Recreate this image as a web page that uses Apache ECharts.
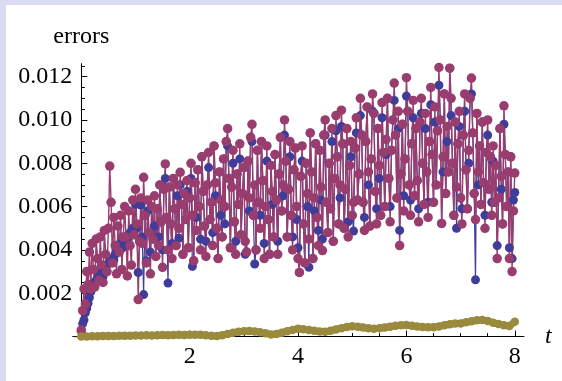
<!DOCTYPE html>
<html lang="en">
<head>
    <meta charset="UTF-8">
    <title>errors vs t</title>
    <style>
        html, body {
            margin: 0;
            padding: 0;
        }

        body {
            background: #dadaf3;
            width: 562px;
            height: 381px;
            overflow: hidden;
            position: relative;
        }

        #chart {
            position: absolute;
            left: 6px;
            top: 5px;
            width: 556px;
            height: 376px;
            background: #fff;
        }
    </style>
    <script src="https://cdn.jsdelivr.net/npm/echarts@6.0.0/dist/echarts.min.js"></script>
</head>
<body>
    <div id="chart"></div>

    <script>
        // both oscillating curves sampled every 0.025 in t (8 samples per row), units of 1e-3
        const tStep = 0.025;

        const magentaErr = [
            0.3, 1.2, 2.2, 1.5, 3.0, 2.4, 3.9, 2.2,
            4.3, 3.1, 2.3, 4.5, 3.6, 2.6, 4.6, 3.3,
            2.5, 4.9, 3.8, 3.0, 5.0, 7.87, 6.2, 3.4,
            5.5, 4.2, 2.9, 5.1, 3.9, 5.6, 3.1, 4.6,
            6.0, 4.6, 2.8, 5.8, 4.2, 3.3, 6.3, 4.7,
            6.8, 5.2, 1.71, 4.4, 6.4, 4.3, 7.35, 5.6,
            3.4, 6.3, 4.8, 2.9, 6.0, 4.5, 6.5, 3.7,
            5.9, 4.2, 7.0, 5.3, 3.2, 6.8, 7.97, 5.5,
            4.0, 6.9, 5.2, 3.6, 7.3, 5.9, 4.2, 7.0,
            5.0, 7.58, 6.1, 3.8, 6.6, 5.4, 7.2, 4.1,
            6.4, 8.0, 5.6, 3.5, 7.1, 4.9, 7.7, 6.0,
            4.0, 8.3, 6.7, 5.1, 3.7, 7.0, 8.5, 5.4,
            6.2, 4.2, 8.8, 7.1, 5.0, 3.6, 7.6, 6.3,
            4.6, 8.2, 6.0, 9.0, 9.6, 7.3, 4.1, 6.9,
            8.6, 5.3, 3.8, 7.5, 6.1, 8.9, 4.7, 6.6,
            7.8, 4.4, 3.9, 8.1, 6.4, 9.2, 9.8, 5.6,
            7.0, 4.0, 8.6, 6.2, 5.0, 9.0, 7.2, 3.6,
            6.0, 8.8, 5.4, 3.8, 7.9, 6.7, 4.6, 8.4,
            6.3, 3.8, 7.5, 9.2, 5.8, 7.0, 10.0, 8.1,
            4.6, 6.8, 9.0, 5.6, 4.0, 7.7, 8.7, 6.0,
            3.6, 2.96, 7.4, 8.8, 5.2, 3.4, 8.0, 6.6,
            4.5, 9.4, 7.6, 3.6, 6.4, 8.9, 5.5, 4.2,
            8.6, 6.9, 3.97, 9.3, 10.0, 6.2, 4.8, 8.0,
            5.9, 9.6, 4.4, 7.3, 10.2, 8.3, 5.2, 7.0,
            10.45, 8.9, 5.0, 6.8, 9.6, 4.6, 7.9, 9.0,
            5.6, 6.2, 8.7, 10.1, 6.3, 7.5, 11.0, 9.3,
            6.2, 4.9, 9.0, 10.6, 7.6, 5.1, 8.2, 11.2,
            10.3, 6.7, 5.2, 9.6, 7.9, 5.6, 10.8, 8.5,
            6.0, 9.1, 11.0, 7.3, 5.3, 8.6, 10.0, 11.7,
            9.3, 6.4, 10.4, 4.2, 7.5, 9.8, 5.8, 8.2,
            11.95, 10.4, 7.0, 5.6, 8.9, 10.9, 6.5, 9.6,
            7.2, 5.3, 9.9, 11.0, 8.0, 6.1, 10.3, 7.6,
            5.5, 9.0, 11.5, 8.4, 6.2, 10.6, 7.0, 9.5,
            12.42, 10.0, 5.22, 8.3, 11.2, 6.6, 9.7, 7.6,
            12.39, 11.0, 8.0, 5.6, 9.9, 6.9, 8.9, 10.4,
            6.4, 5.2, 9.3, 11.2, 7.7, 5.9, 8.6, 11.0,
            11.93, 9.4, 6.6, 5.4, 10.3, 7.6, 8.8, 6.1,
            9.9, 7.1, 5.0, 8.5, 10.0, 6.8, 8.3, 5.6,
            8.8, 6.2, 7.9, 3.6, 6.4, 9.6, 7.4, 5.2,
            10.65, 8.4, 6.0, 7.6, 3.6, 8.3, 3.0, 5.8,
            7.55
        ];

        const blueErr = [
            0.25, 0.6, 0.77, 1.1, 1.3, 1.54, 1.8, 2.07,
            2.2, 2.4, 2.5, 2.6, 2.7, 2.76, 2.9, 3.0,
            2.76, 3.07, 3.2, 3.3, 3.4, 3.45, 3.53, 3.6,
            3.53, 3.8, 4.07, 3.9, 4.2, 4.3, 4.07, 4.4,
            4.5, 4.6, 4.4, 4.69, 4.8, 4.69, 5.0, 4.9,
            6.1, 5.0, 2.96, 4.4, 6.07, 4.6, 1.94, 5.6,
            3.5, 5.8, 4.8, 3.9, 6.0, 4.5, 5.1, 3.7,
            5.9, 4.6, 7.0, 5.3, 4.0, 6.8, 7.3, 5.5,
            2.47, 6.9, 5.2, 4.3, 7.3, 5.9, 4.2, 6.5,
            4.54, 7.0, 6.1, 3.8, 6.6, 5.4, 6.7, 4.1,
            6.4, 7.3, 3.24, 3.5, 7.1, 5.5, 7.7, 6.0,
            4.5, 8.3, 6.7, 5.1, 4.4, 7.0, 7.8, 5.4,
            6.2, 4.8, 8.8, 6.5, 5.0, 3.6, 7.6, 5.6,
            4.6, 8.2, 5.2, 9.0, 8.8, 7.3, 4.1, 6.9,
            8.0, 5.3, 4.4, 7.5, 6.1, 8.2, 4.7, 6.6,
            7.8, 3.8, 3.9, 8.1, 5.8, 9.2, 9.0, 5.6,
            3.35, 4.0, 8.6, 6.2, 5.6, 9.0, 7.2, 4.3,
            6.0, 8.1, 5.4, 3.8, 7.9, 6.1, 4.6, 8.4,
            6.3, 4.4, 7.5, 9.2, 5.8, 6.5, 9.3, 8.1,
            4.6, 6.8, 8.3, 5.6, 4.6, 7.7, 8.7, 5.4,
            4.1, 2.96, 7.4, 8.1, 5.2, 3.4, 8.0, 6.0,
            3.2, 9.4, 7.6, 3.6, 5.8, 8.9, 5.5, 4.9,
            8.6, 6.3, 4.5, 9.3, 9.3, 6.2, 4.8, 8.0,
            5.9, 9.0, 4.4, 7.3, 9.5, 8.3, 5.2, 6.4,
            9.7, 8.9, 5.0, 6.8, 9.6, 5.3, 7.9, 8.3,
            5.6, 4.87, 8.7, 9.4, 6.3, 7.5, 10.2, 9.3,
            6.2, 5.5, 9.0, 10.6, 7.0, 5.1, 8.2, 10.4,
            10.3, 6.7, 5.9, 9.6, 7.3, 5.6, 10.1, 8.5,
            6.0, 8.4, 11.0, 7.3, 6.0, 8.6, 10.0, 10.9,
            9.3, 6.4, 9.6, 4.9, 7.5, 9.8, 6.5, 8.2,
            11.1, 10.4, 7.0, 6.3, 8.9, 10.1, 6.5, 9.6,
            7.2, 5.9, 9.9, 10.3, 8.0, 6.1, 9.6, 7.6,
            6.2, 9.0, 10.7, 8.4, 6.2, 9.9, 7.0, 9.5,
            11.6, 10.0, 5.22, 7.6, 11.2, 6.6, 9.0, 7.6,
            12.39, 10.2, 8.0, 5.6, 9.9, 5.0, 8.9, 9.7,
            6.4, 5.9, 9.3, 10.4, 7.7, 5.9, 8.0, 11.0,
            11.2, 9.4, 6.6, 2.62, 10.3, 7.0, 8.8, 6.1,
            9.9, 7.1, 5.6, 8.5, 9.3, 6.8, 8.3, 6.2,
            8.1, 6.2, 7.9, 4.2, 6.4, 9.6, 6.8, 5.2,
            9.8, 8.4, 6.0, 7.6, 4.1, 8.3, 3.6, 6.3,
            6.65
        ];

        // slow curve near the axis, every 0.1 in t, units of 1e-3
        const oliveStep = 0.1;
        const oliveErr = [
            0.0, 0.01, 0.02, 0.02, 0.03, 0.03, 0.03, 0.04, 0.04, 0.04, 0.05,
            0.05, 0.06, 0.05, 0.06, 0.07, 0.06, 0.07, 0.08, 0.07, 0.08,
            0.09, 0.08, 0.06, 0.04, 0.03, 0.06, 0.12, 0.18, 0.22, 0.25,
            0.26, 0.24, 0.2, 0.15, 0.1, 0.12, 0.18, 0.25, 0.31, 0.36,
            0.34, 0.3, 0.27, 0.24, 0.22, 0.27, 0.33, 0.39, 0.44, 0.48,
            0.46, 0.42, 0.38, 0.36, 0.38, 0.42, 0.46, 0.5, 0.52, 0.53,
            0.5, 0.47, 0.44, 0.43, 0.43, 0.47, 0.52, 0.57, 0.6, 0.61,
            0.66, 0.71, 0.75, 0.77, 0.72, 0.64, 0.58, 0.52, 0.49, 0.69
        ];

        const xTicks = [2, 4, 6, 8];
        const xMinorTicks = [0.5, 1, 1.5, 2.5, 3, 3.5, 4.5, 5, 5.5, 6.5, 7, 7.5];
        const yTicks = [0.002, 0.004, 0.006, 0.008, 0.010, 0.012];
        const yMinorTicks = [0.0005, 0.001, 0.0015, 0.0025, 0.003, 0.0035, 0.0045, 0.005, 0.0055,
            0.0065, 0.007, 0.0075, 0.0085, 0.009, 0.0095, 0.0105, 0.011, 0.0115, 0.0125];

        const serif = 'Liberation Serif';
        const blue = '#3f3d99';
        const magenta = '#993d6e';
        const olive = '#998a3d';

        function toPoints(values, step) {
            return values.map((v, i) => [i * step, v / 1000]);
        }

        const xRange = { min: 0, max: 8.17 };
        const yRange = { min: 0, max: 0.0126 };

        const labelStyle = { fontFamily: serif, fontSize: 24, color: '#000' };
        const tickLine = { color: '#000', width: 1 };

        const chart = echarts.init(document.getElementById('chart'));

        chart.setOption({
            animation: false,
            textStyle: { fontFamily: serif },
            grid: { left: 75.3, right: 38, top: 58.6, bottom: 44.4 },
            xAxis: [
                {
                    type: 'value',
                    min: xRange.min,
                    max: xRange.max,
                    name: 't',
                    nameLocation: 'end',
                    nameGap: 21,
                    nameTextStyle: Object.assign({ fontStyle: 'italic', verticalAlign: 'middle' }, labelStyle),
                    axisLine: { show: true, lineStyle: tickLine },
                    axisTick: { show: true, inside: true, length: 6, customValues: xTicks, lineStyle: tickLine },
                    axisLabel: Object.assign({ customValues: xTicks, margin: 8 }, labelStyle),
                    splitLine: { show: false }
                },
                {
                    type: 'value',
                    position: 'bottom',
                    min: xRange.min,
                    max: xRange.max,
                    axisLine: { show: false },
                    axisTick: { show: true, inside: true, length: 3.5, customValues: xMinorTicks, lineStyle: tickLine },
                    axisLabel: { show: false },
                    splitLine: { show: false }
                }
            ],
            yAxis: [
                {
                    type: 'value',
                    min: yRange.min,
                    max: yRange.max,
                    name: 'errors',
                    nameLocation: 'end',
                    nameGap: 15,
                    nameTextStyle: labelStyle,
                    axisLine: { show: true, lineStyle: tickLine },
                    axisTick: { show: true, inside: true, length: 6, customValues: yTicks, lineStyle: tickLine },
                    axisLabel: Object.assign({
                        customValues: yTicks,
                        margin: 9,
                        formatter: v => v.toFixed(3)
                    }, labelStyle),
                    splitLine: { show: false }
                },
                {
                    type: 'value',
                    position: 'left',
                    min: yRange.min,
                    max: yRange.max,
                    axisLine: { show: false },
                    axisTick: { show: true, inside: true, length: 3.5, customValues: yMinorTicks, lineStyle: tickLine },
                    axisLabel: { show: false },
                    splitLine: { show: false }
                }
            ],
            series: [
                {
                    type: 'line',
                    data: toPoints(blueErr, tStep),
                    symbol: 'circle',
                    symbolSize: 9,
                    clip: false,
                    lineStyle: { color: blue, width: 1.2 },
                    itemStyle: { color: blue }
                },
                {
                    type: 'line',
                    data: toPoints(magentaErr, tStep),
                    symbol: 'circle',
                    symbolSize: 9.5,
                    clip: false,
                    lineStyle: { color: magenta, width: 1.4 },
                    itemStyle: { color: magenta }
                },
                {
                    type: 'line',
                    data: toPoints(oliveErr, oliveStep),
                    symbol: 'circle',
                    symbolSize: 8.5,
                    clip: false,
                    lineStyle: { color: olive, width: 7 },
                    itemStyle: { color: olive }
                }
            ]
        });

        // short stub of the t axis to the left of the origin
        const origin = chart.convertToPixel({ gridIndex: 0 }, [0, 0]);
        chart.setOption({
            graphic: [{
                type: 'line',
                z: 0,
                shape: { x1: origin[0] - 9, y1: origin[1], x2: origin[0], y2: origin[1] },
                style: { stroke: '#000', lineWidth: 1 }
            }]
        });
    </script>
</body>
</html>
